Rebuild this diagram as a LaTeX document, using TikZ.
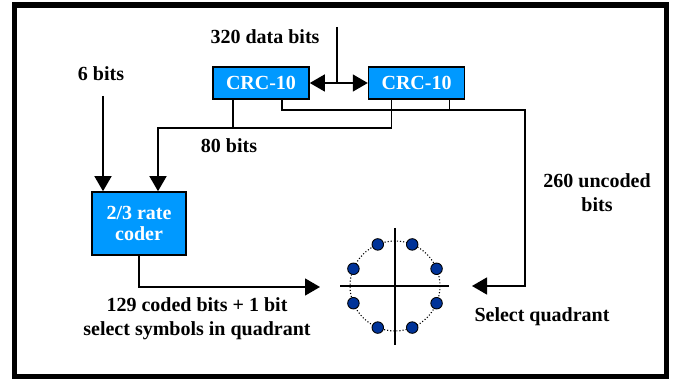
\documentclass[tikz,border=0pt]{standalone}
\usepackage{fontspec}
\setmainfont{Liberation Serif}
\usepackage{xcolor}
\usepackage{tikz}
\usetikzlibrary{arrows.meta, positioning, calc}

\definecolor{boxblue}{RGB}{0,153,255}
\definecolor{symblue}{RGB}{0,51,153}

\tikzset{
  blk/.style={draw, line width=1.6pt, fill=boxblue, text=white,
    font=\fontsize{20}{23}\selectfont\bfseries, align=center, inner sep=0pt},
  lbl/.style={font=\fontsize{20}{24}\selectfont\bfseries, align=center, inner sep=0pt},
  wire/.style={line width=1.4pt},
  tri/.style={wire, -{Triangle[length=15pt,width=17pt]}},
  dbl/.style={wire, {Triangle[length=15pt,width=17pt]}-{Triangle[length=15pt,width=17pt]}},
  sym/.style={circle, draw, line width=0.9pt, fill=symblue, inner sep=0pt, minimum size=11.5pt}
}

\begin{document}
\begin{tikzpicture}[x=1pt, y=-1pt]
    \useasboundingbox (0,0) rectangle (673,379);
    \draw[line width=5.5pt] (14.5,5) rectangle (666.5,377);

    % blocks
    \node[blk, minimum width=96pt, minimum height=32pt] (crcA) at (261,83) {CRC-10};
    \node[blk, minimum width=96pt, minimum height=32pt] (crcB) [right=58pt of crcA] {CRC-10};
    \node[blk, minimum width=94pt, minimum height=63pt] (coder) at (139,223.5) {2/3 rate\\[-2pt]coder};

    % labels
    \node[lbl] (l320) at (265,37) {320 data bits};
    \node[lbl] (l6) at (101,74) {6 bits};
    \node[lbl] (l80) at (229,146) {80 bits};
    \node[lbl] (l260) at (597,193) {260 uncoded\\bits};
    \node[lbl] (lsel) at (542,317) {Select quadrant};
    \node[lbl] (l129) at (197,319) {129 coded bits + 1 bit\\select symbols in quadrant};

    % free ends and taps
    \coordinate (din) at (337,27);
    \coordinate (six) at (103,96);
    \coordinate (a1) at ([xshift=-28pt]crcA.south);
    \coordinate (a2) at ([xshift=21pt]crcA.south);
    \coordinate (b1) at ([xshift=-25pt]crcB.south);
    \coordinate (b2) at ([xshift=33pt]crcB.south);
    \coordinate (j80) at (158,128);
    \coordinate (j260) at (525,110);
    \coordinate (qin) at (472,286);
    \coordinate (qout) at (320,287);

    % data in, split over both CRCs
    \draw[wire] (din) -- (din |- crcA.east);
    \draw[dbl] (crcA) -- (crcB);

    % 80 bits to the coder
    \draw[wire] (a1) -- (a1 |- j80);
    \draw[tri] (b1) |- (j80) -- (j80 |- coder.north);
    \draw[tri] (six) -- (six |- coder.north);

    % 260 uncoded bits
    \draw[wire] (b2) -- (b2 |- j260);
    \draw[tri] (a2) |- (j260) |- (qin);

    % coded bits
    \draw[tri] (coder.south) |- (qout);

    % 8-PSK constellation
    \coordinate (q) at (395,286);
    \draw[wire] ($(q)+(-55,0)$) -- ($(q)+(54,0)$);
    \draw[wire] ($(q)+(0,-58)$) -- ($(q)+(0,59)$);
    \draw[line width=1.1pt, dotted] (q) circle (45);
    \foreach \a in {22.5,67.5,...,337.5}
        \node[sym] at ($(q)+(\a:45)$) {};
\end{tikzpicture}
\end{document}
